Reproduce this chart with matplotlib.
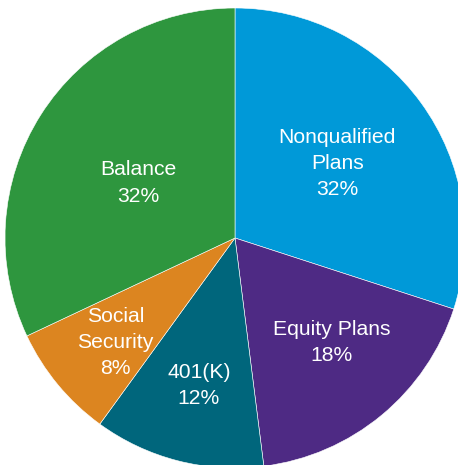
import numpy as np
import matplotlib
matplotlib.use("Agg")
import matplotlib.pyplot as plt

categories = ["Nonqualified\nPlans", "Equity Plans", "401(K)", "Social\nSecurity", "Balance"]
shares = [30, 18, 12, 8, 32]          # wedge sizes as drawn
pct_labels = ["32%", "18%", "12%", "8%", "32%"]  # printed labels
colors = ["#0099D8", "#4E2A84", "#00667C", "#DC8520", "#2E963E"]
label_r = [0.55, 0.62, 0.66, 0.69, 0.485]
label_dang = [0.0, 3.1, 0.6, 1.6, 2.8]

plt.rcParams['font.family'] = ['Liberation Sans', 'DejaVu Sans']

fig = plt.figure(figsize=(4.58, 4.65), dpi=100)
ax = fig.add_axes([0, 0, 1, 1])
cx, cy, R = 235, 227, 230
wedges, _ = ax.pie(shares, colors=colors, startangle=90, counterclock=False,
                   radius=R, center=(cx, cy),
                   wedgeprops=dict(edgecolor="white", linewidth=0.4))
for w, cat, pct, lr, da in zip(wedges, categories, pct_labels, label_r, label_dang):
    mid = np.deg2rad((w.theta1 + w.theta2) / 2 + da)
    x = cx + lr * R * np.cos(mid)
    y = cy + lr * R * np.sin(mid)
    ax.text(x, y, f"{cat}\n{pct}", ha="center", va="center", color="white",
            fontsize=15.2, linespacing=1.48)
ax.set_xlim(0, 458)
ax.set_ylim(0, 465)
ax.set_aspect("equal")
ax.axis("off")
fig.savefig("out.png", dpi=100)
